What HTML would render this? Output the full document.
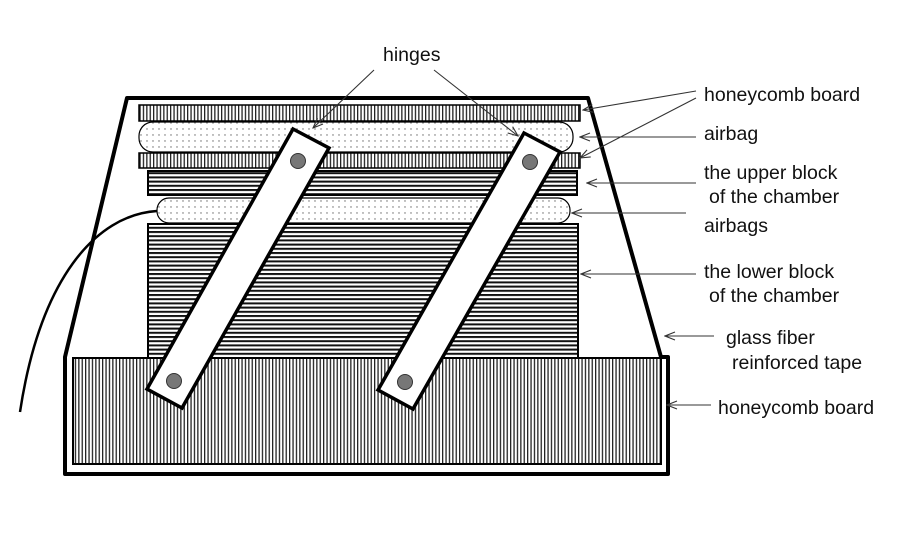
<!DOCTYPE html>
<html><head><meta charset="utf-8"><style>
html,body{margin:0;padding:0;background:#fff;}
svg{display:block;}
text{font-family:"Liberation Sans",sans-serif;font-size:19.5px;fill:#111;}
</style></head><body>
<svg width="900" height="550" viewBox="0 0 900 550" xmlns="http://www.w3.org/2000/svg">
<defs>
<pattern id="vl" width="3.4" height="10" patternUnits="userSpaceOnUse"><rect width="3.4" height="10" fill="#fff"/><rect width="1.3" height="10" fill="#222"/></pattern>
<pattern id="hl" width="10" height="4.2" patternUnits="userSpaceOnUse"><rect width="10" height="4.2" fill="#fff"/><rect width="10" height="2" fill="#111"/></pattern>
<pattern id="dt" width="6" height="6" patternUnits="userSpaceOnUse"><rect width="6" height="6" fill="#fff"/><circle cx="3" cy="3" r="0.7" fill="#666"/></pattern>
<marker id="ar" markerWidth="12" markerHeight="10" refX="11" refY="5" orient="auto" markerUnits="userSpaceOnUse"><path d="M1,1 L11,5 L1,9" fill="none" stroke="#333" stroke-width="1.1"/></marker>
</defs>
<path d="M127,98 L588,98 L661,357 L668,357 L668,474 L65,474 L65,357 L127,98 Z" fill="#fff" stroke="#000" stroke-width="4" stroke-linejoin="round"/>
<rect x="73" y="358" width="588" height="106" fill="url(#vl)" stroke="#000" stroke-width="2"/>
<rect x="148" y="224" width="430" height="134" fill="url(#hl)" stroke="#000" stroke-width="2"/>
<rect x="148" y="171" width="429" height="24" fill="url(#hl)" stroke="#000" stroke-width="2"/>
<rect x="139" y="105" width="441" height="16" fill="url(#vl)" stroke="#000" stroke-width="1.5"/>
<rect x="139" y="153" width="441" height="15" fill="url(#vl)" stroke="#000" stroke-width="1.5"/>
<rect x="139" y="122" width="434" height="30" rx="14" fill="url(#dt)" stroke="#000" stroke-width="1.2"/>
<rect x="157" y="198" width="413" height="25" rx="12" fill="url(#dt)" stroke="#000" stroke-width="1.2"/>
<path d="M157,211 C95,215 40,280 20,412" fill="none" stroke="#000" stroke-width="2.5"/>
<polygon points="293,129 329,148 182,408 147,389" fill="#fff" stroke="#000" stroke-width="3.5"/>
<circle cx="298" cy="161" r="7.5" fill="#777" stroke="#333" stroke-width="1"/>
<circle cx="174" cy="381" r="7.5" fill="#777" stroke="#333" stroke-width="1"/>
<polygon points="524,133 560,152 413,409 378,390" fill="#fff" stroke="#000" stroke-width="3.5"/>
<circle cx="530" cy="162" r="7.5" fill="#777" stroke="#333" stroke-width="1"/>
<circle cx="405" cy="382" r="7.5" fill="#777" stroke="#333" stroke-width="1"/>
<g stroke="#333" stroke-width="1.1" fill="none">
<line x1="374" y1="70" x2="313" y2="128" marker-end="url(#ar)"/>
<line x1="434" y1="70" x2="518" y2="136" marker-end="url(#ar)"/>
<line x1="696" y1="91" x2="583" y2="110" marker-end="url(#ar)"/>
<line x1="696" y1="98" x2="580" y2="158" marker-end="url(#ar)"/>
<line x1="696" y1="137" x2="580" y2="137" marker-end="url(#ar)"/>
<line x1="696" y1="183" x2="587" y2="183" marker-end="url(#ar)"/>
<line x1="686" y1="213" x2="572" y2="213" marker-end="url(#ar)"/>
<line x1="696" y1="274" x2="581" y2="274" marker-end="url(#ar)"/>
<line x1="714" y1="336" x2="665" y2="336" marker-end="url(#ar)"/>
<line x1="711" y1="405" x2="667" y2="405" marker-end="url(#ar)"/>
</g>
<text x="383" y="61">hinges</text>
<text x="704" y="101">honeycomb board</text>
<text x="704" y="140">airbag</text>
<text x="704" y="179">the upper block</text>
<text x="709" y="203">of the chamber</text>
<text x="704" y="232">airbags</text>
<text x="704" y="278">the lower block</text>
<text x="709" y="302">of the chamber</text>
<text x="726" y="344">glass fiber</text>
<text x="732" y="369">reinforced tape</text>
<text x="718" y="414">honeycomb board</text>
</svg>
</body></html>
